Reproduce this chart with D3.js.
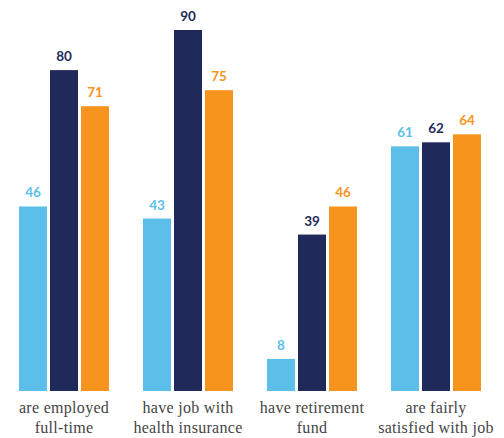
<!DOCTYPE html>
<html><head><meta charset="utf-8">
<script src="https://cdn.jsdelivr.net/npm/d3@7"></script>
<style>html,body{margin:0;padding:0;background:#fff;}svg{display:block;}
.cat{font-family:"Liberation Serif","DejaVu Serif",serif;font-size:16px;fill:#444;letter-spacing:0.3px;}
.val{font-family:Lato,"Open Sans",sans-serif;font-weight:bold;font-size:13.5px;}
</style>
</head><body>
<svg id="chart" width="504" height="438"></svg>
<script>
const categories = [["are employed","full-time"],["have job with","health insurance"],["have retirement","fund"],["are fairly","satisfied with job"]];
const seriesNames = ["s1","s2","s3"];
const series1 = [46, 43, 8, 61];
const series2 = [80, 90, 39, 62];
const series3 = [71, 75, 46, 64];
const colors = ["#5bbfea", "#1f2a5a", "#f7941d"];
const labelColors = ["#5bbfea", "#1f2a5a", "#f7941d"];

const svg = d3.select("#chart");
const baseline = 391, plotTop = 30;
const y = d3.scaleLinear().domain([0, 90]).range([baseline, plotTop]);
const x0 = d3.scaleBand().domain(d3.range(4)).range([6.6, 493.4]).paddingInner(0.274).paddingOuter(0.1);
const x1 = d3.scaleBand().domain(d3.range(3)).range([0, x0.bandwidth()]).paddingInner(0.097);

const data = [series1, series2, series3];
const g = svg.append("g");
categories.forEach((c, i) => {
  const gg = g.append("g").attr("transform", `translate(${x0(i)},0)`);
  data.forEach((s, j) => {
    gg.append("rect").attr("x", x1(j)).attr("width", x1.bandwidth())
      .attr("y", y(s[i])).attr("height", baseline - y(s[i])).attr("fill", colors[j]);
    gg.append("text").attr("class", "val").attr("x", x1(j) + x1.bandwidth()/2).attr("y", y(s[i]) - 9)
      .attr("text-anchor", "middle").attr("fill", labelColors[j]).text(s[i]);
  });
  c.forEach((line, k) => {
    gg.append("text").attr("class", "cat").attr("x", x0.bandwidth()/2).attr("y", 413 + k*20)
      .attr("text-anchor", "middle").text(line);
  });
});
</script>
</body></html>
